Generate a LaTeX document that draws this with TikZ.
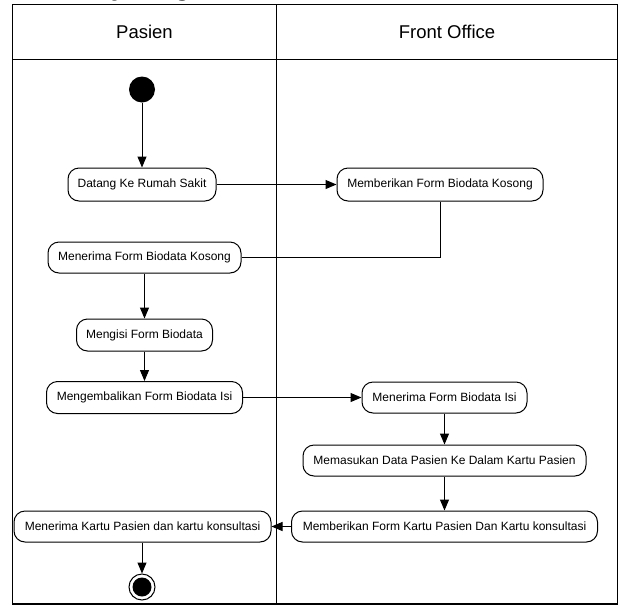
\documentclass[tikz,border=0pt]{standalone}
\usepackage{fontspec}
\setmainfont{Liberation Sans}
\usetikzlibrary{arrows.meta}

\tikzset{
  action/.style={draw=black, line width=1pt, rounded corners=11pt,
    minimum height=31pt, inner sep=0pt, align=center,
    font=\fontsize{12}{14}\selectfont},
  flow/.style={line width=1pt, -{Triangle[length=11pt,width=9pt]}},
  plainflow/.style={line width=1pt},
  lane/.style={line width=1.2pt},
  lanehead/.style={font=\fontsize{18.5}{22}\selectfont},
}

\begin{document}
\begin{tikzpicture}[x=1pt, y=-1pt]
\useasboundingbox (0,0) rectangle (619,606);

% heading above the frame (only its descenders fall on the page)
\node[anchor=base west, inner sep=0pt, font=\fontsize{26.5}{30}\selectfont\bfseries]
  (title) at (30,-4.5) {Activity Diagram};

% swimlane frame
\draw[lane] (12.3,4.7) rectangle (617.5,604);
\draw[lane] (276.7,4.7) -- (276.7,604);
\draw[lane] (12.3,59.3) -- (617.5,59.3);
\node[lanehead] (lanePasien) at (144.5,32) {Pasien};
\node[lanehead] (laneFO) at (447,32) {Front Office};

% initial and final states
\node[circle, fill=black, minimum size=26pt, inner sep=0pt] (start) at (142,89.5) {};
\node[circle, draw=black, line width=1pt, minimum size=26pt, inner sep=0pt] (finish) at (142,587) {};
\node[circle, fill=black, minimum size=19pt, inner sep=0pt] (finishdot) at (142,587) {};

% actions
\node[action, minimum width=148pt, minimum height=33pt] (datang) at (142,184.5) {Datang Ke Rumah Sakit};
\node[action, minimum width=206pt, minimum height=33pt] (beriform) at (440,184.5) {Memberikan Form Biodata Kosong};
\node[action, minimum width=193pt] (terimaform) at (144.5,257.5) {Menerima Form Biodata Kosong};
\node[action, minimum width=136pt, minimum height=32pt] (isi) at (144.5,335) {Mengisi Form Biodata};
\node[action, minimum width=196pt, minimum height=32pt] (kembali) at (144.5,397.5) {Mengembalikan Form Biodata Isi};
\node[action, minimum width=165pt] (terimaisi) at (444.5,397.5) {Menerima Form Biodata Isi};
\node[action, minimum width=283pt] (masukan) at (444.5,460.5) {Memasukan Data Pasien Ke Dalam Kartu Pasien};
\node[action, minimum width=306pt] (berikartu) at (444.5,526.5) {Memberikan Form Kartu Pasien Dan Kartu konsultasi};
\node[action, minimum width=257pt] (terimakartu) at (142.5,526.5) {Menerima Kartu Pasien dan kartu konsultasi};

% control flow
\draw[flow] (start) -- (datang.north -| start);
\draw[flow] (datang) -- (beriform);
\draw[plainflow] (beriform.south) |- (terimaform.east);
\draw[flow] (terimaform) -- (isi);
\draw[flow] (isi) -- (kembali);
\draw[flow] (kembali) -- (terimaisi);
\draw[flow] (terimaisi) -- (masukan);
\draw[flow] (masukan) -- (berikartu);
\draw[flow] (berikartu) -- (terimakartu);
\draw[flow] (terimakartu.south -| finish) -- (finish);
\end{tikzpicture}
\end{document}
